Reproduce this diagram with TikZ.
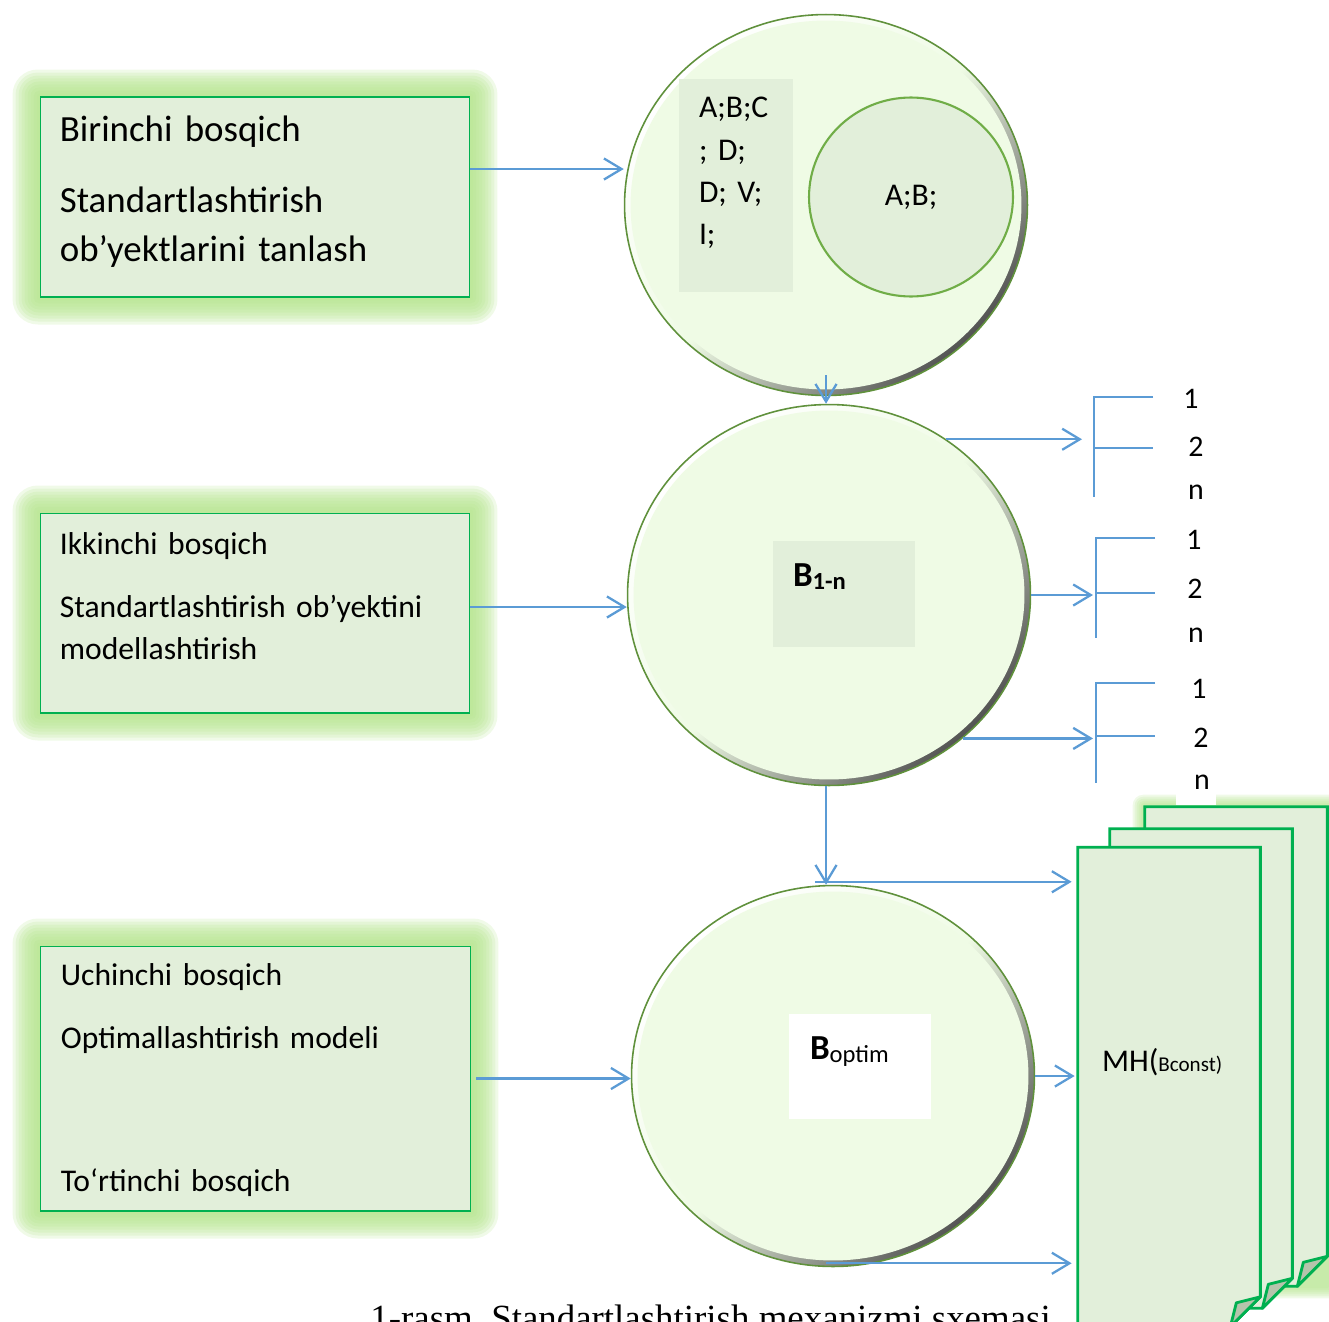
\documentclass[tikz,border=0pt]{standalone}
\usepackage{fontspec}
\setmainfont{Carlito}
\newfontfamily\capfont{Liberation Serif}
\frenchspacing
\usetikzlibrary{shapes.geometric,arrows.meta,backgrounds}
\definecolor{flowblue}{HTML}{5B9BD5}
\definecolor{boxfill}{HTML}{E2EFDA}
\definecolor{boxline}{HTML}{00B050}
\definecolor{glowgreen}{RGB}{180,228,140}
\definecolor{circfill}{HTML}{EFFBE5}
\definecolor{rimgreen}{RGB}{96,145,60}
\definecolor{innerline}{HTML}{70AD47}
\definecolor{foldgray}{RGB}{182,196,172}
\tikzset{
	stagebox/.style={rectangle,draw=boxline,fill=boxfill,line width=0.6pt,minimum width=8.6cm,inner sep=0pt},
	stagetext/.style={anchor=base west,align=left,text width=8cm,inner sep=0pt},
	bigcirc/.style={ellipse,minimum width=8.06cm,minimum height=7.62cm,inner sep=0pt,draw=rimgreen,line width=0.9pt,
		top color=white,bottom color=gray!65!black,middle color=circfill,shading angle=45,
		path picture={\fill[circfill] (path picture bounding box.center) ellipse [x radius=3.91cm,y radius=3.69cm];}},
	innerbox/.style={rectangle,fill=boxfill,inner sep=0pt},
	circtext/.style={inner sep=0pt,align=left,font=\fontsize{18}{24.1}\selectfont},
	numtxt/.style={inner sep=0pt,font=\fontsize{17}{17}\selectfont},
	flow/.style={draw=flowblue,line width=1.3pt,-{Straight Barb[length=10pt,width=12pt]}},
	brk/.style={draw=flowblue,line width=0.7pt},
	page/.style={rectangle,minimum width=3.64cm,minimum height=9.58cm,inner sep=0pt},
	pageline/.style={draw=boxline,fill=boxfill,line width=1.6pt},
	fold/.style={draw=boxline,fill=foldgray,line width=1.6pt,line join=round}
}
\begin{document}
\begin{tikzpicture}[x=0.02cm,y=-0.02cm]
	\useasboundingbox (0,0) rectangle (1329,1322);
	\clip (0,0) rectangle (1329,1322);
	% stages
	\node[stagebox,minimum height=4cm](b1) at (255,197){};
	\node[stagebox,minimum height=4cm](b2) at (255,613){};
	\node[stagebox,minimum width=8.62cm,minimum height=5.3cm](b3) at (255.5,1078.5){};
	\node[stagetext,font=\fontsize{21}{27.8}\selectfont](t1) at ([shift={(20,45)}]b1.north west){Birinchi bosqich\\[12.5pt]Standartlashtirish\\ob’yektlarini tanlash};
	\node[stagetext,font=\fontsize{18}{23.8}\selectfont](t2) at ([shift={(20,42)}]b2.north west){Ikkinchi bosqich\\[11.9pt]Standartlashtirish ob’yektini\\modellashtirish};
	\node[stagetext,font=\fontsize{18}{23.8}\selectfont](t3) at ([shift={(21,40)}]b3.north west){Uchinchi bosqich\\[11.9pt]Optimallashtirish modeli\\[57.8pt]To‘rtinchi bosqich};
	% circles
	\node[bigcirc](c1) at (826,205){};
	\node[bigcirc](c2) at (829,595){};
	\node[bigcirc](c3) at (833,1076){};
	\node[innerbox,minimum width=2.28cm,minimum height=4.26cm](r1) at (736,185.5){};
	\node[circtext,anchor=base west,text width=1.8cm](t4) at ([shift={(20,39)}]r1.north west){A;B;C\\; D;\\D; V;\\I;};
	\node[ellipse,draw=innerline,line width=1.2pt,fill=boxfill,minimum width=4.08cm,minimum height=3.98cm,inner sep=0pt,font=\fontsize{18}{18}\selectfont](ab) at (911,197){A;B;};
	\node[innerbox,minimum width=2.84cm,minimum height=2.12cm](r2) at (844,594){};
	\node[circtext,anchor=base west](bn) at ([shift={(20,46)}]r2.north west){\fontsize{20}{20}\selectfont\bfseries B\raisebox{-1.7pt}{\fontsize{14}{14}\selectfont 1-n}};
	\node[innerbox,fill=white,minimum width=2.84cm,minimum height=2.1cm](r3) at (860,1066.5){};
	\node[circtext,anchor=base west](bo) at ([shift={(21,46)}]r3.north west){\fontsize{20}{20}\selectfont\textbf{B}\raisebox{-1.7pt}{\fontsize{14}{14}\selectfont optim}};
	% pages
	\node[page](p3) at (1236,1046.5){};
	\node[page](p2) at (1201,1068.5){};
	\node[page](p1) at (1169,1087){};
	\foreach \p in {p3,p2,p1}{
		\draw[pageline] (\p.north west) -- (\p.north east) -- ([yshift=0.6cm]\p.south east) -- ([xshift=-0.6cm]\p.south east) -- (\p.south west) -- cycle;
		\draw[fold] ([yshift=0.6cm]\p.south east) -- ([shift={(-0.48cm,0.48cm)}]\p.south east) -- ([xshift=-0.6cm]\p.south east) -- cycle;
	}
	\node[circtext,anchor=base west](mh) at ([shift={(24,-16)}]p1.west){MH(\fontsize{12}{12}\selectfont Bconst)};
	% brackets
	\coordinate (k1) at (1094,397);
	\coordinate (k2) at (1096,538);
	\coordinate (k3) at (1096,683);
	\foreach \k/\m in {k1/51,k2/55,k3/53}{
		\draw[brk] (\k) ++(59,0) -- (\k) -- ++(0,100) (\k) ++(0,\m) -- ++(59,0);
	}
	\node[numtxt](n11) at (1191,399){1};
	\node[numtxt](n12) at (1196,447){2};
	\node[numtxt](n13) at (1196,492){n};
	\node[numtxt](n21) at (1194,540){1};
	\node[numtxt](n22) at (1195,589){2};
	\node[numtxt](n23) at (1196,635){n};
	\node[numtxt](n31) at (1199,689){1};
	\node[numtxt](n32) at (1201,738){2};
	\node[numtxt,fill=white,minimum width=0.8cm,minimum height=0.9cm,text width=0.55cm,align=right](n33) at (1196,782){n};
	% arrows
	\coordinate (a1) at ([yshift=0.56cm]b1.east);
	\draw[flow] (a1) -- (a1 -| c1.west);
	\coordinate (a2) at ([yshift=0.12cm]b2.east);
	\draw[flow] (a2) -- (a2 -| c2.west);
	\coordinate (a3) at ([xshift=0.1cm]b3.east);
	\draw[flow] (a3) -- (a3 -| c3.west);
	\coordinate (d1) at ([yshift=0.42cm]c1.south);
	\draw[flow] (d1) -- (d1 |- c2.north);
	\coordinate (d2) at ([xshift=-0.06cm]c2.south);
	\draw[flow] (d2) -- (d2 |- c3.north);
	\draw[flow,shorten >=0.24cm] (c2.53) -- (c2.53 -| k1);
	\draw[flow,shorten >=0.06cm] (c2.east) -- (c2.east -| k2);
	\draw[flow,shorten >=0.06cm] (c2.-47) -- (c2.-47 -| k3);
	\coordinate (e1) at ([shift={(-0.36cm,0.06cm)}]c3.north);
	\draw[flow,shorten >=0.12cm] (e1) -- (e1 -| p1.west);
	\draw[flow,shorten >=0.06cm] (c3.east) -- (c3.east -| p1.west);
	\coordinate (e3) at ([shift={(-0.14cm,0.08cm)}]c3.south);
	\draw[flow,shorten >=0.12cm] (e3) -- (e3 -| p1.west);
	% caption
	\node[anchor=base west,inner sep=0pt,font=\capfont\fontsize{21}{21}\selectfont](cap) at (370,1330){1-rasm. Standartlashtirish mexanizmi sxemasi};
	% glow
	\begin{scope}[on background layer]
		\foreach \bx in {b1,b2,b3}
			\foreach \gl in {1,...,9}
				\fill[glowgreen,opacity=0.2,rounded corners=\gl*1.6pt] ([shift={(-\gl*0.06cm,-\gl*0.06cm)}]\bx.south west) rectangle ([shift={(\gl*0.06cm,\gl*0.06cm)}]\bx.north east);
		\foreach \gl in {1,...,6}
			\fill[glowgreen,opacity=0.2,rounded corners=\gl*1pt] ([shift={(-\gl*0.04cm,-\gl*0.04cm)}]p3.south west) rectangle ([shift={(\gl*0.04cm,\gl*0.04cm)}]p3.north east);
	\end{scope}
\end{tikzpicture}
\end{document}
